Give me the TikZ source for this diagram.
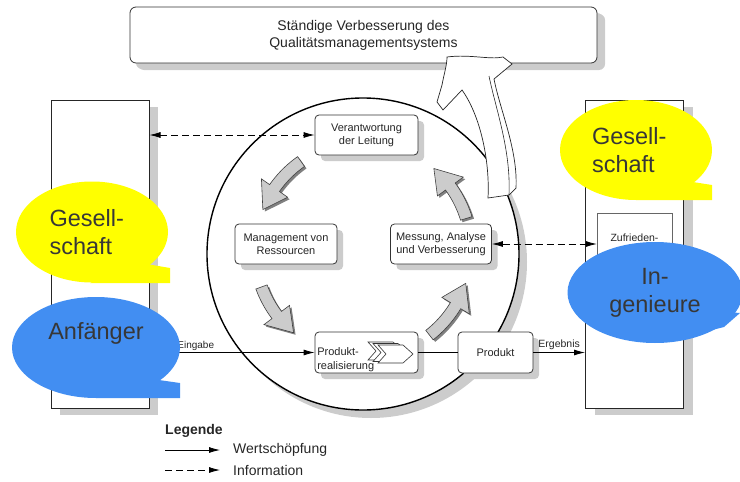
\documentclass[tikz,border=0pt]{standalone}
\usepackage{fontspec}
\setmainfont{Liberation Sans}
\usetikzlibrary{shapes,arrows.meta,positioning,shadows}

\definecolor{qmyellow}{RGB}{255,255,0}
\definecolor{qmblue}{RGB}{66,142,242}
\definecolor{qmtext}{RGB}{55,55,55}

% curved grey arrow of the cycle: tail angle, tip angle (counter-clockwise on the page)
\newcommand{\cyclearrow}[2]{%
  \pgfmathsetmacro{\headbase}{#2-13}
  \fill[black!50, shift={(2,2)}] plot[domain=-#1:-\headbase, samples=10] (\x:114) -- (-\headbase:124) -- (-#2:108) -- (-\headbase:92) -- (-\headbase:102) -- plot[domain=-\headbase:-#1, samples=10] (\x:102) -- cycle;
  \filldraw[fill=black!20, draw=black!75, line width=.6pt] plot[domain=-#1:-\headbase, samples=10] (\x:114) -- (-\headbase:124) -- (-#2:108) -- (-\headbase:92) -- (-\headbase:102) -- plot[domain=-\headbase:-#1, samples=10] (\x:102) -- cycle;
}

\begin{document}
\begin{tikzpicture}[x=1pt, y=-1pt, node distance=155pt, >={Latex[length=11pt,width=6pt]}]
    % Styles
    \tikzstyle{boxshadow} = [drop shadow={shadow xshift=6pt, shadow yshift=-6pt, fill=black!20, opacity=1}]
    \tikzstyle{block} = [rectangle, draw=black!80, fill=white, rounded corners=4pt, align=center, text=black!85, font=\fontsize{11}{13}\selectfont, line width=.8pt, boxshadow]
    \tikzstyle{side} = [rectangle, draw=black!85, fill=white, line width=1pt, minimum width=98pt, minimum height=308pt, drop shadow={shadow xshift=9pt, shadow yshift=-7pt, fill=black!20, opacity=1}]
    \tikzstyle{flow} = [->, line width=.8pt]
    \tikzstyle{info} = [->, dash pattern=on 7pt off 4pt, line width=.8pt]
    \tikzstyle{bubble} = [ellipse, inner sep=0pt, text=qmtext, font=\fontsize{23.5}{28}\selectfont]
    \tikzstyle{small} = [font=\fontsize{10.5}{12}\selectfont, text=black!85]
    \tikzstyle{legend} = [anchor=west, inner sep=0pt, text=black!85, font=\fontsize{14}{16}\selectfont]

    \useasboundingbox (0,0) rectangle (740,482);

    % Nodes
    \node [block, rounded corners=6pt, minimum width=467pt, minimum height=56pt, font=\fontsize{14}{17}\selectfont, drop shadow={shadow xshift=8pt, shadow yshift=-7pt, fill=black!20, opacity=1}] (ziel) at (363.5,35) {Ständige Verbesserung des\\Qualitätsmanagementsystems};
    \node [side] (kundeL) at (100,254) {};
    \node [side] (kundeR) at (634.5,254) {};
    \node [rectangle, draw=black!60, fill=white, minimum width=75pt, minimum height=107pt] (zufr) at (634.5,266.5) {};
    \node [small, font=\fontsize{10.5}{12}\selectfont] (zufrtext) at ([yshift=-25pt]zufr.north) {Zufrieden-};

    \node [circle, draw, fill=white, line width=1.4pt, minimum size=312pt, drop shadow={shadow xshift=8pt, shadow yshift=-8pt, fill=black!20, opacity=1}] (kreis) at (363,254) {};

    \node [block, minimum width=103pt, minimum height=40pt] (leitung) at (366.5,135) {Verantwortung\\der Leitung};
    \node [block, minimum width=102pt, minimum height=40pt] (ressourcen) at (286,244) {Management von\\Ressourcen};
    \node [block, minimum width=101pt, minimum height=40pt, right of=ressourcen] (messung) {Messung, Analyse\\und Verbesserung};
    \node [block, minimum width=103pt, minimum height=41pt, below of=leitung, node distance=217.5pt] (real) {};
    \node [block, minimum width=75pt, minimum height=41pt, right of=real, node distance=129pt] (produkt) {Produkt};

    % chevrons in the realisation box
    \foreach \s in {10,5,0}
        \filldraw [fill=white, draw=black!80, line width=.6pt, shift={(-\s,-0.3*\s)}] (378,345) -- (403,345) -- (413,354) -- (403,363) -- (378,363) -- (386,354) -- cycle;
    \node [anchor=south west, inner sep=1.5pt, xshift=1pt, align=left, text=black!85, font=\fontsize{11}{14}\selectfont] (realtext) at (real.south west) {Produkt-\\realisierung};

    % Arrows
    \draw [info, <->] (kundeL.east |- leitung) -- (leitung);
    \draw [info, <->] (messung) -- (messung -| zufr.west);
    \draw [flow] (kundeL.east |- real) -- node [pos=.28, above, inner sep=2pt, small, font=\fontsize{10}{12}\selectfont] {Eingabe} (real);
    \draw [line width=.8pt] (real) -- (produkt);
    \draw [flow] (produkt) -- node [above, inner sep=2pt, small] {Ergebnis} (produkt -| kundeR.west);

    % cycle arrows
    \begin{scope}[shift={(363,250)}]
        \cyclearrow{125}{158}
        \cyclearrow{200}{230}
        \cyclearrow{308}{342}
        \cyclearrow{17}{49}
    \end{scope}

    % improvement arrow to the top box
    \filldraw [fill=white, draw=black!85, line width=.7pt] (447,57) .. controls (470,54) and (490,60) .. (503,57) -- (512,64) -- (494,79) .. controls (500,110) and (518,150) .. (516,188) -- (509,195) -- (488,198) .. controls (490,160) and (480,115) .. (462,90) -- (443,110) -- (437,102) -- (442,85) .. controls (444,74) and (447,65) .. (447,57) -- cycle;
    \draw [black!85, line width=.6pt] (489,76) .. controls (496,110) and (511,150) .. (509,195);

    % Legend
    \node [legend, font=\bfseries\fontsize{14}{16}\selectfont] (legende) at (165,431) {Legende};
    \coordinate (w1) at (165,450);
    \coordinate (w2) at (220,450);
    \node [legend] (wert) at (233,450) {Wertschöpfung};
    \draw [flow] (w1) -- (w2);
    \coordinate (i1) at (165,470);
    \coordinate (i2) at (220,470);
    \node [legend] (inf) at (233,470) {Information};
    \draw [info] (i1) -- (i2);

    % Bubbles
    \fill [qmyellow] (90,283) -- (170,283) -- (170,268) -- (135,262) -- cycle;
    \node [bubble, fill=qmyellow, minimum width=152pt, minimum height=101pt, text width=85pt, align=left] (gesL) at (92,232) {Gesell-\\schaft};
    \fill [qmyellow] (636,200) -- (712,200) -- (712,185) -- (680,180) -- cycle;
    \node [bubble, fill=qmyellow, minimum width=152pt, minimum height=100pt, text width=88pt, align=left] (gesR) at (636,150) {Gesell-\\schaft};
    \fill [qmblue] (96,398) -- (180,398) -- (180,383) -- (145,378) -- cycle;
    \node [bubble, fill=qmblue, minimum width=168pt, minimum height=101pt] (anf) at (96,347.5) {};
    \node [bubble] (anftext) at ([yshift=14pt]anf.center) {Anfänger};
    \fill [qmblue] (680,338) -- (724,327) -- (740,313) -- (700,310) -- cycle;
    \node [bubble, fill=qmblue, minimum width=175pt, minimum height=101pt, align=center] (ing) at (655,292.5) {In-\\genieure};
\end{tikzpicture}
\end{document}
